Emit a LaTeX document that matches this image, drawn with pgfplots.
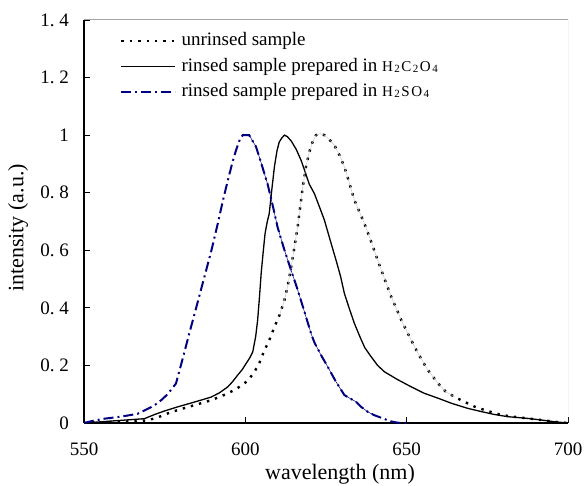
\documentclass[border=0pt]{standalone}
\usepackage{pgfplots}
\pgfplotsset{compat=1.18}
\usepackage{pgfplotstable}
\usepackage{fontspec}
\setmainfont{Liberation Serif}
\frenchspacing

\definecolor{navyline}{RGB}{0,0,128}

\newcommand{\el}[1]{{\fontsize{15}{15}\selectfont #1}\kern1.5pt}
\newcommand{\dg}[1]{\raisebox{-1pt}{\fontsize{11}{11}\selectfont #1}\kern1.5pt}

% unrinsed sample
\pgfplotstableread{
x y
550 0
555 0.002
560 0.004
565 0.006
569.7 0.009
573 0.02
577 0.038
583 0.058
589.4 0.079
594 0.1
597 0.117
599.7 0.137
601.3 0.155
602.8 0.177
604.4 0.21
605.9 0.252
607.5 0.29
609 0.333
610.6 0.375
612.1 0.426
613.2 0.48
614.2 0.542
615.2 0.61
616.2 0.68
617 0.75
617.8 0.82
618.8 0.89
619.8 0.94
620.8 0.975
621.9 1.0
623.2 1.005
624.5 1.0
626 0.985
627.6 0.965
629.2 0.93
630.7 0.89
632.2 0.835
633.8 0.774
635.3 0.735
636.9 0.693
639 0.63
641 0.566
643 0.505
645.2 0.439
646.8 0.398
648.3 0.358
651 0.297
653.5 0.242
656.5 0.185
659.7 0.138
662 0.11
664.8 0.091
668 0.073
671 0.057
675 0.042
679.3 0.028
683 0.022
687.5 0.016
692 0.01
696 0.004
700 0
}\unrinsed

% rinsed, H2C2O4
\pgfplotstableread{
x y
550 0
555 0.004
560 0.008
565 0.012
568.7 0.015
572 0.03
575 0.042
579 0.056
584 0.072
589.4 0.09
592 0.105
594.5 0.125
596 0.143
597.6 0.166
599 0.185
600.2 0.206
601.3 0.225
602.3 0.247
603.2 0.30
603.8 0.356
604.4 0.44
604.9 0.519
605.5 0.59
606.1 0.657
606.8 0.70
607.4 0.727
608.2 0.81
609 0.889
609.8 0.945
610.5 0.976
611.3 0.99
612.1 1.0
613 0.995
614.2 0.98
615.8 0.95
617.3 0.912
618.6 0.87
619.8 0.83
621.4 0.797
623 0.75
624.5 0.705
626.3 0.635
628.1 0.566
629.5 0.51
630.7 0.45
632.3 0.395
633.8 0.346
635.5 0.30
637 0.262
639 0.23
641 0.2
643.1 0.178
647 0.152
651 0.128
655.5 0.103
660 0.085
664 0.068
668.9 0.051
673 0.04
677 0.03
681.3 0.022
687.5 0.016
692 0.01
696 0.004
700 0
}\oxalic

% rinsed, H2SO4
\pgfplotstableread{
x y
550 0
553 0.008
556.3 0.015
560 0.02
563 0.025
566.6 0.032
569 0.045
571.8 0.061
574 0.08
575.9 0.10
578.5 0.137
580.5 0.22
582.6 0.31
585 0.41
587.3 0.507
589.5 0.60
591.4 0.69
593 0.77
594.5 0.84
596 0.905
597.1 0.947
598.3 0.985
599.2 1.0
601.2 1.0
603.3 0.96
605 0.90
606.9 0.83
608.5 0.755
610 0.68
612 0.605
614.2 0.53
616 0.47
617.2 0.427
618.5 0.38
620.4 0.31
621.4 0.28
623.5 0.235
625.5 0.196
628 0.145
630.7 0.097
632.5 0.085
634.3 0.074
636 0.055
637.9 0.039
640 0.027
642.6 0.016
645 0.006
647.2 0.001
650 0
}\sulfuric

\begin{document}
\begin{tikzpicture}
\path[use as bounding box] (0,0) rectangle (584pt,485pt);
\begin{axis}[
  at={(84pt,62pt)}, anchor=south west,
  scale only axis, width=484pt, height=403pt,
  xmin=550, xmax=700, ymin=0, ymax=1.4,
  axis x line*=bottom, axis y line*=left,
  axis line style={line width=1.2pt, black},
  xtick={550,600,650,700}, xticklabels={550,600,650,700},
  ytick={0,0.2,0.4,0.6,0.8,1,1.2,1.4},
  yticklabels={0,{0. 2},{0. 4},{0. 6},{0. 8},1,{1. 2},{1. 4}},
  tick align=inside, major tick length=6pt,
  tick style={black, line width=0.8pt},
  ticklabel style={font=\fontsize{19}{22}\selectfont, inner sep=0pt},
  yticklabel style={xshift=-15pt},
  xticklabel style={yshift=-20pt},
  xlabel={wavelength (nm)},
  ylabel={intensity (a.u.)},
  label style={font=\fontsize{22}{24}\selectfont, inner sep=0pt},
  xlabel style={at={(axis description cs:0.5,0)}, anchor=base, xshift=14pt, yshift=-56pt},
  ylabel style={at={(axis description cs:-0.136,0.484)}, anchor=center},
  legend cell align=left,
  legend image code/.code={\draw[#1] (0pt,0pt) -- (54pt,0pt);},
  legend style={draw=none, fill=none, inner sep=0pt,
    at={(rel axis cs:0.0744,1)}, anchor=north west, yshift=-12.5pt,
    font=\fontsize{19}{22}\selectfont,
    nodes={inner sep=0pt, text height=13pt, text depth=4pt},
    row sep=8.5pt, column sep=5pt},
]
\draw[gray!70, line width=1pt] (rel axis cs:0,1) -- (rel axis cs:1,1) -- (rel axis cs:1,0);

\addplot[black, line width=2.4pt, dash pattern=on 2.4pt off 6pt] table[x=x,y=y] {\unrinsed};
\addlegendentry{unrinsed sample}
\addplot[black, line width=1.3pt] table[x=x,y=y] {\oxalic};
\addlegendentry{rinsed sample prepared in \el{H}\dg{2}\el{C}\dg{2}\el{O}\dg{4}}
\addplot[navyline, line width=2pt, dash pattern=on 10pt off 4pt on 2pt off 4pt] table[x=x,y=y] {\sulfuric};
\addlegendentry{rinsed sample prepared in \el{H}\dg{2}\el{S}\el{O}\dg{4}}

\addplot[gray!50, line width=0.4pt, forget plot, restrict x to domain=610:665] table[x=x,y=y] {\unrinsed};
\addplot[navyline, line width=0.5pt, forget plot, restrict x to domain=600:642] table[x=x,y=y] {\sulfuric};
\end{axis}
\end{tikzpicture}
\end{document}
